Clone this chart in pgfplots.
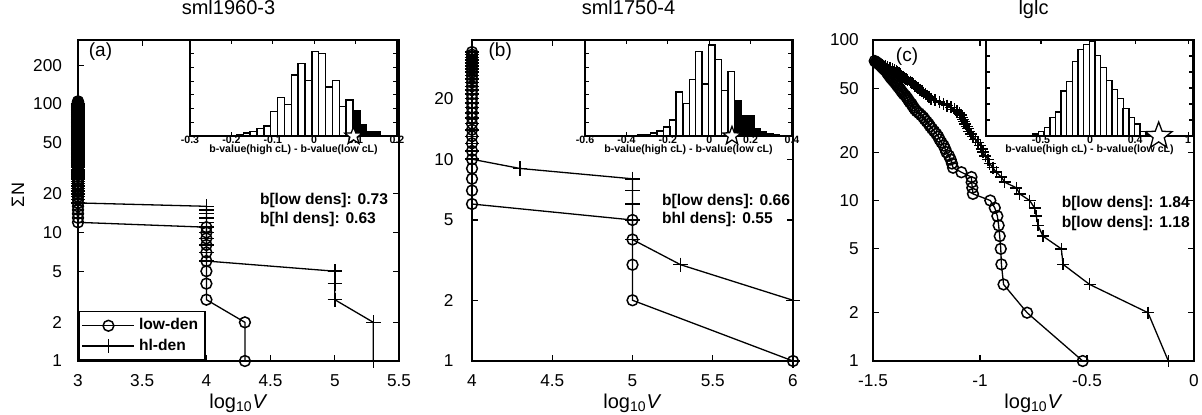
\documentclass[border=0pt]{standalone}
\usepackage{pgfplots}
\pgfplotsset{compat=1.18}
\usepackage{fontspec}
\setmainfont{Liberation Sans}

\pgfdeclareplotmark{pstar}{%
 \pgfpathmoveto{\pgfpointpolar{90}{\pgfplotmarksize}}%
 \pgfpathlineto{\pgfpointpolar{126}{0.42\pgfplotmarksize}}%
 \pgfpathlineto{\pgfpointpolar{162}{\pgfplotmarksize}}%
 \pgfpathlineto{\pgfpointpolar{198}{0.42\pgfplotmarksize}}%
 \pgfpathlineto{\pgfpointpolar{234}{\pgfplotmarksize}}%
 \pgfpathlineto{\pgfpointpolar{270}{0.42\pgfplotmarksize}}%
 \pgfpathlineto{\pgfpointpolar{306}{\pgfplotmarksize}}%
 \pgfpathlineto{\pgfpointpolar{342}{0.42\pgfplotmarksize}}%
 \pgfpathlineto{\pgfpointpolar{18}{\pgfplotmarksize}}%
 \pgfpathlineto{\pgfpointpolar{54}{0.42\pgfplotmarksize}}%
 \pgfpathclose
 \pgfusepathqfillstroke
}

\tikzset{
  notetext/.style={font=\fontsize{7.8}{9}\selectfont\bfseries, anchor=west},
  panellab/.style={font=\fontsize{9.5}{11}\selectfont},
}

\pgfplotsset{
  mainax/.style={
    scale only axis, width=160.5pt, height=160.5pt,
    clip=false, enlargelimits=false,
    axis line style={line width=0.9pt}, tick align=inside,
    tick style={line width=0.65pt, black}, major tick length=3pt,
    tick label style={font=\fontsize{8.6}{9}\selectfont},
    xticklabel style={anchor=base, yshift=-12.5pt},
    title style={at={(0.5,1)}, anchor=base, yshift=6.7pt, font=\fontsize{10}{11}\selectfont},
    xlabel style={at={(0.5,0)}, anchor=base, yshift=-23.5pt, font=\fontsize{10}{11}\selectfont},
    xlabel={log\textsubscript{10}\textit{V}},
  },
  lowden/.style={black, line width=0.65pt, mark=o, mark size=2.7pt, mark options={line width=0.75pt, solid}},
  hlden/.style={black, line width=0.65pt, mark=+, mark size=3.6pt, mark options={line width=0.75pt, solid}},
  insetax/.style={
    scale only axis, width=103.5pt, height=48pt,
    ymin=0, ymax=100, enlargelimits=false, clip=false,
    axis background/.style={fill=white},
    axis line style={line width=0.85pt}, tick align=inside, major tick length=2pt,
    tick style={line width=0.55pt, black}, yticklabels={},
    tick label style={font=\fontsize{5.3}{6}\selectfont\bfseries},
    xticklabel style={anchor=base, yshift=-3.6pt},
    xlabel={b-value(high cL) - b-value(low cL)},
    xlabel style={font=\fontsize{5.3}{6}\selectfont\bfseries, at={(0.5,0)}, anchor=base, yshift=-8.3pt},
  },
  wbar/.style={ybar, bar shift=0pt, draw=black, fill=white, line width=0.7pt},
  kbar/.style={ybar, bar shift=0pt, draw=black, fill=black, line width=0.7pt},
  starm/.style={only marks, mark=pstar, mark options={fill=white, draw=black, line width=0.65pt}},
}

\begin{document}
\begin{tikzpicture}
\path[use as bounding box] (0,0) rectangle (601pt,207pt);

% ---------------- (a) ----------------
\begin{axis}[mainax, ymode=log, yminorticks=false, at={(39pt,26.5pt)}, anchor=south west,
  xmin=3, xmax=5.5, ymin=1, ymax=315,
  xtick={3,3.5,4,4.5,5,5.5}, xticklabels={3,3.5,4,4.5,5,5.5},
  ytick={1,2,5,10,20,50,100,200}, yticklabels={1,2,5,10,20,50,100,200},
  yticklabel style={xshift=-4.5pt},
  title={sml1960-3}, title style={xshift=-5pt},
  ylabel={ΣN}, ylabel style={at={(-0.187,0.517)}, anchor=center, font=\fontsize{9}{10}\selectfont},
  legend style={at={(0,0)}, anchor=south west, draw=black, line width=0.8pt,
    font=\fontsize{7.8}{9}\selectfont\bfseries, inner sep=1.5pt, row sep=-1pt, cells={anchor=west}},
  legend image code/.code={\draw[mark repeat=2, mark phase=2, #1] plot coordinates {(0pt,0pt) (13pt,0pt) (26pt,0pt)};},
]
\addplot[lowden] coordinates {(4.3,1)(4.3,2)(4,3)(4,4)(4,5)(4,6)(4,7)(4,8)(4,9)(4,10)(4,11)
(3,12)(3,13)(3,14)(3,15)(3,16)(3,17)(3,18)(3,19)(3,20)(3,21)(3,22)(3,23)(3,24)(3,25)(3,26)(3,27)(3,28)(3,29)(3,30)
(3,31)(3,32)(3,33)(3,34)(3,35)(3,36)(3,37)(3,38)(3,39)(3,40)(3,41)(3,42)(3,43)(3,44)(3,45)(3,46)(3,47)(3,48)(3,49)(3,50)
(3,51)(3,52)(3,53)(3,54)(3,55)(3,56)(3,57)(3,58)(3,59)(3,60)(3,61)(3,62)(3,63)(3,64)(3,65)(3,66)(3,67)(3,68)(3,69)(3,70)
(3,71)(3,72)(3,73)(3,74)(3,75)(3,76)(3,77)(3,78)(3,79)(3,80)(3,81)(3,82)(3,83)(3,84)(3,85)(3,86)(3,87)(3,88)(3,89)(3,90)
(3,91)(3,92)(3,93)(3,94)(3,95)(3,96)(3,97)(3,98)(3,99)(3,100)(3,101)(3,102)(3,103)(3,104)(3,105)};
\addlegendentry{low-den}
\addplot[hlden] coordinates {(5.3,1)(5.3,2)(5,3)(5,4)(5,5)(4,6)(4,7)(4,8)(4,9)(4,10)(4,11)(4,12)(4,13)(4,14)(4,15)(4,16)
(3,17)(3,18)(3,19)(3,20)(3,21)(3,22)(3,23)(3,24)(3,25)(3,26)(3,27)(3,28)(3,29)(3,30)
(3,31)(3,32)(3,33)(3,34)(3,35)(3,36)(3,37)(3,38)(3,39)(3,40)(3,41)(3,42)(3,43)(3,44)(3,45)(3,46)(3,47)(3,48)(3,49)(3,50)
(3,51)(3,52)(3,53)(3,54)(3,55)(3,56)(3,57)(3,58)(3,59)(3,60)(3,61)(3,62)(3,63)(3,64)(3,65)(3,66)(3,67)(3,68)(3,69)(3,70)
(3,71)(3,72)(3,73)(3,74)(3,75)(3,76)(3,77)(3,78)(3,79)(3,80)(3,81)(3,82)(3,83)(3,84)(3,85)(3,86)(3,87)(3,88)(3,89)(3,90)
(3,91)(3,92)(3,93)(3,94)(3,95)(3,96)(3,97)(3,98)(3,99)(3,100)};
\addlegendentry{hl-den}
\node[panellab] at (axis description cs:0.07,0.963) {(a)};
\node[notetext] at (axis description cs:0.545,0.50) {b[low dens]: 0.73};
\node[notetext] at (axis description cs:0.545,0.442) {b[hl dens]: 0.63};
\end{axis}

\begin{axis}[insetax, at={(95pt,139pt)}, anchor=south west,
  xmin=-0.3, xmax=0.2,
  xtick={-0.3,-0.2,-0.1,0,0.1,0.2}, xticklabels={-0.3,-0.2,-0.1,0,0.1,0.2},
  ytick={14.3,28.6,42.9,57.1,71.4,85.7},
]
\addplot[wbar, bar width=0.01656] coordinates {(-0.2127,0.3)(-0.1961,0.6)(-0.1796,1)(-0.163,3)(-0.1464,4.7)(-0.1299,8)(-0.1133,10.4)(-0.0968,25.6)(-0.0802,40)(-0.0636,33)(-0.0471,63.6)(-0.0305,75.4)(-0.014,57.6)(0.0026,88.2)(0.0192,86.2)(0.0358,51)(0.0523,57.6)(0.0689,31)(0.0854,37.4)};
\addplot[kbar, bar width=0.01656] coordinates {(0.102,26.6)(0.1186,12)(0.135,4.7)(0.1517,4.7)(0.1683,0.5)};
\addplot[starm, mark size=4.6pt] coordinates {(0.095,0)};
\end{axis}

% ---------------- (b) ----------------
\begin{axis}[mainax, ymode=log, yminorticks=false, at={(236pt,26.5pt)}, anchor=south west,
  xmin=4, xmax=6, ymin=1, ymax=39,
  xtick={4,4.5,5,5.5,6}, xticklabels={4,4.5,5,5.5,6},
  ytick={1,2,5,10,20}, yticklabels={1,2,5,10,20},
  yticklabel style={xshift=-5.7pt},
  title={sml1750-4}, title style={xshift=-2pt},
]
\addplot[lowden] coordinates {(6,1)(5,2)(5,3)(5,4)(5,5)(4,6)(4,7)(4,8)(4,9)(4,10)(4,11)(4,12)(4,13)(4,14)(4,15)(4,16)(4,17)(4,18)(4,19)(4,20)
(4,21)(4,22)(4,23)(4,24)(4,25)(4,26)(4,27)(4,28)(4,29)(4,30)(4,31)(4,32)(4,33)(4,34)};
\addplot[hlden] coordinates {(6,1)(6,2)(5.3,3)(5,4)(5,5)(5,6)(5,7)(5,8)(4.3,9)(4,10)(4,11)(4,12)(4,13)(4,14)(4,15)(4,16)(4,17)(4,18)(4,19)(4,20)
(4,21)(4,22)(4,23)(4,24)(4,25)(4,26)(4,27)(4,28)(4,29)(4,30)(4,31)(4,32)(4,33)(4,34)};
\node[panellab] at (axis description cs:0.088,0.963) {(b)};
\node[notetext] at (axis description cs:0.57,0.498) {b[low dens]: 0.66};
\node[notetext] at (axis description cs:0.57,0.442) {bhl dens]: 0.55};
\end{axis}

\begin{axis}[insetax, at={(292.5pt,139pt)}, anchor=south west,
  xmin=-0.6, xmax=0.4,
  xtick={-0.6,-0.4,-0.2,0,0.2,0.4}, xticklabels={-0.6,-0.4,-0.2,0,0.2,0.4},
  ytick={14.3,28.6,42.9,57.1,71.4,85.7},
]
\addplot[wbar, bar width=0.0312] coordinates {(-0.393,0.4)(-0.362,0.6)(-0.331,1)(-0.300,1.5)(-0.268,3)(-0.237,5.4)(-0.206,9.4)(-0.175,16.5)(-0.144,45.8)(-0.112,34)(-0.081,58.6)(-0.050,87.9)(-0.019,54.2)(0.012,94.6)(0.044,79.5)(0.075,47.5)(0.106,67)};
\addplot[kbar, bar width=0.0312] coordinates {(0.137,36.7)(0.168,21.5)(0.200,21.5)(0.231,8)(0.262,4)(0.293,2)(0.324,1)(0.356,0.7)(0.387,0.5)};
\addplot[starm, mark size=4.8pt] coordinates {(0.11,0)};
\end{axis}

% ---------------- (c) ----------------
\begin{axis}[mainax, ymode=log, yminorticks=false, at={(436.5pt,26.5pt)}, anchor=south west,
  xmin=-1.5, xmax=0, ymin=1, ymax=100,
  xtick={-1.5,-1,-0.5,0}, xticklabels={-1.5,-1,-0.5,0},
  ytick={1,2,5,10,20,50,100}, yticklabels={1,2,5,10,20,50,100},
  yticklabel style={xshift=-3.6pt},
  title={lglc},
]
\addplot[lowden] coordinates {(-0.52,1)(-0.78,2)(-0.89,3)(-0.90,4)(-0.903,5)(-0.908,6)(-0.913,7)(-0.919,8)(-0.931,9)(-0.952,10)(-1.033,11)(-1.036,12)(-1.039,13)(-1.040,14)(-1.087,15)(-1.126,16)(-1.131,17)(-1.137,18)(-1.145,19)(-1.157,20)(-1.163,21)(-1.170,22)(-1.180,23)(-1.189,24)(-1.195,25)(-1.204,26)(-1.214,27)(-1.224,28)(-1.233,29)(-1.240,30)(-1.249,31)(-1.258,32)(-1.265,33)(-1.275,34)(-1.285,35)(-1.296,36)(-1.304,37)(-1.310,38)(-1.316,39)(-1.320,40)(-1.328,41)(-1.333,42)(-1.338,43)(-1.343,44)(-1.349,45)(-1.356,46)(-1.362,47)(-1.367,48)(-1.372,49)(-1.376,50)(-1.382,51)(-1.387,52)(-1.391,53)(-1.396,54)(-1.401,55)(-1.406,56)(-1.411,57)(-1.416,58)(-1.420,59)(-1.424,60)(-1.428,61)(-1.432,62)(-1.435,63)(-1.438,64)(-1.444,65)(-1.449,66)(-1.454,67)(-1.459,68)(-1.463,69)(-1.468,70)(-1.474,71)(-1.480,72)(-1.486,73)(-1.492,74)};
\addplot[hlden, mark size=3pt] coordinates {(-0.12,1)(-0.215,2)(-0.488,3)(-0.612,4)(-0.62,5)(-0.706,6)(-0.729,7)(-0.737,8)(-0.745,9)(-0.768,10)(-0.815,11)(-0.830,12)(-0.885,13)(-0.900,14)(-0.924,15)(-0.940,16)(-0.955,17)(-0.963,18)(-0.975,19)(-0.986,20)(-0.992,21)(-0.998,22)(-1.010,23)(-1.022,24)(-1.033,25)(-1.042,26)(-1.050,27)(-1.057,28)(-1.062,29)(-1.068,30)(-1.074,31)(-1.080,32)(-1.085,33)(-1.090,34)(-1.096,35)(-1.108,36)(-1.120,37)(-1.135,38)(-1.155,39)(-1.170,40)(-1.190,41)(-1.210,42)(-1.228,43)(-1.238,44)(-1.246,45)(-1.255,46)(-1.264,47)(-1.272,48)(-1.281,49)(-1.289,50)(-1.296,51)(-1.303,52)(-1.311,53)(-1.318,54)(-1.326,55)(-1.338,56)(-1.346,57)(-1.353,58)(-1.360,59)(-1.367,60)(-1.373,61)(-1.379,62)(-1.385,63)(-1.391,64)(-1.400,65)(-1.410,66)(-1.420,67)(-1.432,68)(-1.442,69)(-1.455,70)(-1.467,71)(-1.478,72)(-1.486,73)(-1.492,74)};
\node[panellab] at (axis description cs:0.106,0.947) {(c)};
\node[notetext] at (axis description cs:0.566,0.49) {b[low dens]: 1.84};
\node[notetext] at (axis description cs:0.566,0.427) {b[low dens]: 1.18};
\end{axis}

\begin{axis}[insetax, at={(493pt,139pt)}, anchor=south west,
  xmin=-1.06, xmax=1.05,
  xtick={-0.5,0,0.46,1}, xticklabels={-0.5,0,0.4,1},
  ytick={16.7,33.3,50,66.7,83.3},
]
\addplot[wbar, bar width=0.0575] coordinates {(-0.611,0.7)(-0.553,2)(-0.496,4.8)(-0.438,8.9)(-0.381,19.2)(-0.323,25.1)(-0.266,46.7)(-0.208,57)(-0.151,77.7)(-0.093,90.4)(-0.036,95.2)(0.022,98.3)(0.080,83.8)(0.137,71.5)(0.195,58.1)(0.252,48.5)(0.310,39.2)(0.367,28.9)(0.425,19.2)(0.482,12.4)(0.540,4.8)(0.597,2)(0.655,0.7)};
\addplot[starm, mark size=7pt] coordinates {(0.70,0)};
\end{axis}
\end{tikzpicture}
\end{document}
